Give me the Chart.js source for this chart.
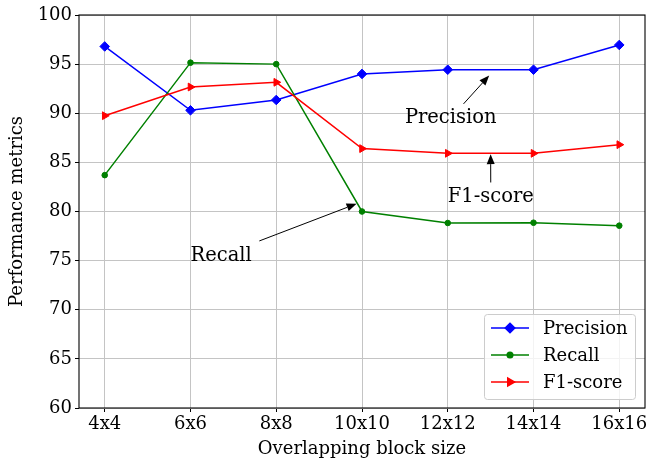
<!DOCTYPE html>
<html>
<head>
<meta charset="utf-8">
<script src="https://cdn.jsdelivr.net/npm/chart.js@4/dist/chart.umd.min.js"></script>
<style>
  html, body { margin: 0; padding: 0; background: #fff; }
  canvas { display: block; }
</style>
</head>
<body>
<canvas id="chart" width="646" height="461"></canvas>
<script>
// Overlapping block sizes on the x axis
const blockSizes = ['4x4', '6x6', '8x8', '10x10', '12x12', '14x14', '16x16'];
// Performance metrics (%) per block size
const precision = [96.8, 90.3, 91.35, 94.0, 94.43, 94.43, 96.95];
const recall    = [83.7, 95.15, 95.0, 80.0, 78.83, 78.86, 78.56];
const f1Score   = [89.75, 92.67, 93.15, 86.4, 85.92, 85.92, 86.8];
// Y axis tick values
const yTicks = [60, 65, 70, 75, 80, 85, 90, 95, 100];

// Callouts: text anchor and arrow tip, given as (block side, metric value)
const callouts = [
  { text: 'Precision', at: [11, 89], tip: [13, 94] },
  { text: 'F1-score',  at: [12, 81], tip: [13, 86] },
  { text: 'Recall',    at: [6, 75],  tip: [10, 81] }
];

const SERIF = '"DejaVu Serif", serif';
const TICK_SIZE = 18;
const LEGEND_SIZE = 18;
const NOTE_SIZE = 19.5;

// block side n -> position on the index axis
const sideToIndex = n => (n - 4) / 2;

const series = (label, values, color, style, radius, rotation, order) => ({
  label,
  data: values.map((v, i) => ({ x: i, y: v })),
  borderColor: color,
  backgroundColor: color,
  borderWidth: 1.5,
  pointStyle: style,
  pointRadius: radius,
  pointHoverRadius: radius,
  pointRotation: rotation,
  pointBorderWidth: 1,
  pointBackgroundColor: color,
  pointBorderColor: color,
  tension: 0,
  order
});

// Axes frame drawn on top of the grid
const framePlugin = {
  id: 'frame',
  afterDatasetsDraw(chart) {
    const { ctx, chartArea: a } = chart;
    ctx.save();
    ctx.strokeStyle = '#000';
    ctx.lineWidth = 1.1;
    ctx.strokeRect(a.left, a.top, a.right - a.left, a.bottom - a.top);
    ctx.restore();
  }
};

// Text labels with arrows pointing at the curves
const calloutPlugin = {
  id: 'callouts',
  afterDatasetsDraw(chart) {
    const { ctx } = chart;
    const xs = chart.scales.x, ys = chart.scales.y;
    ctx.save();
    ctx.font = `${NOTE_SIZE}px ${SERIF}`;
    for (const c of callouts) {
      const tx = xs.getPixelForValue(sideToIndex(c.at[0]));
      const ty = ys.getPixelForValue(c.at[1]);
      const px = xs.getPixelForValue(sideToIndex(c.tip[0]));
      const py = ys.getPixelForValue(c.tip[1]);
      const m = ctx.measureText(c.text);
      const asc = NOTE_SIZE * 0.76, desc = NOTE_SIZE * 0.24;
      const pad = 2.8;
      const bx0 = tx - pad, bx1 = tx + m.width + pad;
      const by0 = ty - asc - pad, by1 = ty + desc + pad;
      const cx = (bx0 + bx1) / 2, cy = (by0 + by1) / 2;
      // clip the centre-to-tip line at the padded text box
      const dx = px - cx, dy = py - cy;
      let t = Infinity;
      if (dx !== 0) t = Math.min(t, ((dx > 0 ? bx1 : bx0) - cx) / dx);
      if (dy !== 0) t = Math.min(t, ((dy > 0 ? by1 : by0) - cy) / dy);
      let sx = cx + dx * t, sy = cy + dy * t;
      let ex = px, ey = py;
      const len = Math.hypot(ex - sx, ey - sy);
      const ux = (ex - sx) / len, uy = (ey - sy) / len;
      const shrink = 0.05 * len;
      sx += ux * shrink; sy += uy * shrink;
      ex -= ux * shrink; ey -= uy * shrink;
      const headLen = 10, headW = 8;
      const hx = ex - ux * headLen, hy = ey - uy * headLen;
      ctx.strokeStyle = '#000';
      ctx.fillStyle = '#000';
      ctx.lineWidth = 1;
      ctx.beginPath();
      ctx.moveTo(sx, sy);
      ctx.lineTo(hx, hy);
      ctx.stroke();
      ctx.beginPath();
      ctx.moveTo(ex, ey);
      ctx.lineTo(hx - uy * headW / 2, hy + ux * headW / 2);
      ctx.lineTo(hx + uy * headW / 2, hy - ux * headW / 2);
      ctx.closePath();
      ctx.fill();
      ctx.fillStyle = '#000';
      ctx.textAlign = 'left';
      ctx.textBaseline = 'alphabetic';
      ctx.fillText(c.text, tx, ty);
    }
    ctx.restore();
  }
};

// Legend box in the lower right corner of the plot area
const legendPlugin = {
  id: 'cornerLegend',
  afterDraw(chart) {
    const { ctx, chartArea: a } = chart;
    const w = 151, h = 85;
    const x0 = a.right - 10 - w, y0 = a.bottom - 9 - h;
    ctx.save();
    ctx.beginPath();
    ctx.roundRect(x0 + 0.5, y0 + 0.5, w, h, 3);
    ctx.fillStyle = 'rgba(255,255,255,0.8)';
    ctx.fill();
    ctx.strokeStyle = '#cccccc';
    ctx.lineWidth = 1;
    ctx.stroke();
    ctx.font = `${LEGEND_SIZE}px ${SERIF}`;
    ctx.textBaseline = 'middle';
    ctx.textAlign = 'left';
    const rowY = [14, 41, 68];
    [0, 1, 2].forEach((di, r) => {
      const ds = chart.data.datasets[di];
      const y = y0 + rowY[r];
      ctx.strokeStyle = ds.borderColor;
      ctx.lineWidth = ds.borderWidth;
      ctx.beginPath();
      ctx.moveTo(x0 + 7, y);
      ctx.lineTo(x0 + 45, y);
      ctx.stroke();
      Chart.helpers.drawPoint(ctx, {
        pointStyle: ds.pointStyle,
        rotation: ds.pointRotation,
        radius: ds.pointRadius,
        borderWidth: 1
      }, x0 + 26, y);
      ctx.fillStyle = ds.borderColor;
      ctx.fill();
      ctx.fillStyle = '#000';
      ctx.fillText(ds.label, x0 + 59, y + 1);
    });
    ctx.restore();
  }
};

new Chart(document.getElementById('chart'), {
  type: 'line',
  data: {
    datasets: [
      series('Precision', precision, '#0000ff', 'rectRot', 4.8, 0, 3),
      series('Recall', recall, '#008000', 'circle', 2.8, 0, 2),
      series('F1-score', f1Score, '#ff0000', 'triangle', 4.5, 90, 1)
    ]
  },
  options: {
    responsive: false,
    animation: false,
    devicePixelRatio: 1,
    layout: { autoPadding: false, padding: { left: 0, top: 15, right: 1, bottom: 0 } },
    plugins: {
      legend: { display: false },
      tooltip: { enabled: false }
    },
    scales: {
      x: {
        type: 'linear',
        min: -0.3,
        max: blockSizes.length - 0.7,
        afterBuildTicks: axis => { axis.ticks = blockSizes.map((_, i) => ({ value: i })); },
        afterFit: axis => { axis.height = 53; axis.paddingLeft = 0; axis.paddingRight = 0; },
        ticks: {
          callback: v => blockSizes[v],
          font: { family: SERIF, size: TICK_SIZE },
          color: '#000',
          padding: 2,
          maxRotation: 0,
          autoSkip: false
        },
        grid: { color: '#c4c4c4', lineWidth: 1, drawTicks: true, tickLength: 4, tickColor: '#000' },
        border: { display: false },
        title: {
          display: true,
          text: 'Overlapping block size',
          font: { family: SERIF, size: TICK_SIZE, lineHeight: 1.2 },
          color: '#000',
          padding: { top: 0, bottom: 1 }
        }
      },
      y: {
        min: 60,
        max: 100,
        afterBuildTicks: axis => { axis.ticks = yTicks.map(v => ({ value: v })); },
        afterFit: axis => { axis.width = 79; axis.paddingTop = 0; axis.paddingBottom = 0; },
        ticks: {
          font: { family: SERIF, size: TICK_SIZE },
          color: '#000',
          padding: 3
        },
        grid: { color: '#c4c4c4', lineWidth: 1, drawTicks: true, tickLength: 4, tickColor: '#000' },
        border: { display: false },
        title: {
          display: true,
          text: 'Performance metrics',
          font: { family: SERIF, size: TICK_SIZE, lineHeight: 1.2 },
          color: '#000',
          padding: { top: 7, bottom: 0 }
        }
      }
    }
  },
  plugins: [framePlugin, calloutPlugin, legendPlugin]
});
</script>
</body>
</html>
